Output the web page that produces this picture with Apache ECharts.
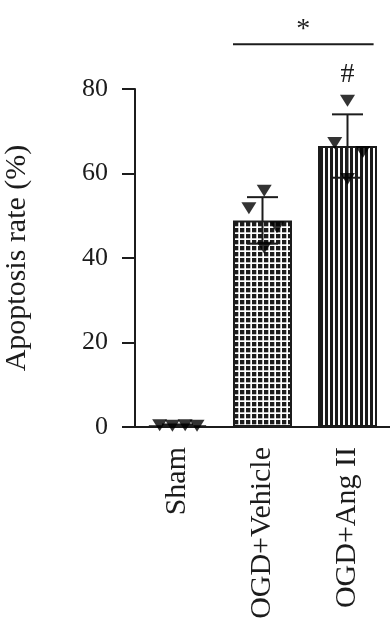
<!DOCTYPE html>
<html>
<head>
<meta charset="utf-8">
<script src="https://cdn.jsdelivr.net/npm/echarts@6/dist/echarts.min.js"></script>
<style>
html,body{margin:0;padding:0;background:#fff;}
#chart{width:390px;height:621px;}
</style>
</head>
<body>
<div id="chart"></div>
<script>
// ---- data ----
var categories = ['Sham', 'OGD+Vehicle', 'OGD+Ang II'];
var means = [0.4, 48.9, 66.5];
var sds = [0.2, 5.5, 7.5];
var pointsSham = [0.4, 0.3, 0.4, 0.3];
var pointsVehicle = [51.8, 55.9, 47.3, 42.4];
var pointsAngII = [77.2, 67.2, 65.1, 58.7];
var jitterSham = [-0.21, -0.06, 0.09, 0.23];
var jitterVehicle = [-0.16, 0.02, 0.17, 0.02];
var jitterAngII = [0.0, -0.15, 0.18, 0.0];
var yTicks = [0, 20, 40, 60, 80];
var yTitle = 'Apoptosis rate (%)';
var sigStar = {text: '*', from: 1, to: 2, lineY: 90.6, textY: 94.0};
var sigHash = {text: '#', at: 2, textY: 83.5};

var FONT = '"Liberation Serif", "DejaVu Serif", serif';
var INK = '#1c1c1c';

function makePattern(kind) {
  var c = document.createElement('canvas');
  var ctx;
  if (kind === 'grid') {
    c.width = 6; c.height = 6;
    ctx = c.getContext('2d');
    ctx.fillStyle = '#fff'; ctx.fillRect(0, 0, 6, 6);
    ctx.fillStyle = INK; ctx.fillRect(0, 0, 4.3, 4.3);
  } else {
    c.width = 5; c.height = 4;
    ctx = c.getContext('2d');
    ctx.fillStyle = '#fff'; ctx.fillRect(0, 0, 5, 4);
    ctx.fillStyle = INK; ctx.fillRect(0, 0, 3, 4);
  }
  return {image: c, repeat: 'repeat'};
}
var fills = ['#ffffff', makePattern('grid'), makePattern('stripe')];

var pointSets = [pointsSham, pointsVehicle, pointsAngII];
var jitters = [jitterSham, jitterVehicle, jitterAngII];
var scatterData = [];
pointSets.forEach(function (arr, i) {
  arr.forEach(function (v, j) { scatterData.push([i + jitters[i][j], v]); });
});
var errData = means.map(function (m, i) { return [i, m - sds[i], m + sds[i]]; });

var BAR_W = 59;
var chart = echarts.init(document.getElementById('chart'), null, {renderer: 'canvas'});
var option = {
  animation: false,
  backgroundColor: '#ffffff',
  grid: {left: 135, right: 0, top: 89, bottom: 194, containLabel: false, outerBoundsMode: 'none'},
  xAxis: [{
    type: 'category',
    data: categories,
    axisLine: {onZero: false, lineStyle: {color: INK, width: 2}},
    axisTick: {alignWithLabel: true, length: 13, lineStyle: {color: INK, width: 2}},
    axisLabel: {rotate: 90, margin: 20, color: INK, fontFamily: FONT, fontSize: 30, interval: 0}
  }, {
    type: 'value', min: -0.5, max: 2.5, show: false
  }],
  yAxis: {
    type: 'value', min: 0, max: 80, interval: 20,
    name: yTitle, nameLocation: 'middle', nameRotate: 90, nameGap: 103,
    nameTextStyle: {color: INK, fontFamily: FONT, fontSize: 30},
    axisLine: {show: true, onZero: false, lineStyle: {color: INK, width: 2}},
    axisTick: {show: true, length: 13, lineStyle: {color: INK, width: 2}},
    axisLabel: {margin: 27, color: INK, fontFamily: FONT, fontSize: 26},
    splitLine: {show: false}
  },
  series: [{
    type: 'bar',
    xAxisIndex: 0,
    barWidth: BAR_W,
    data: means.map(function (m, i) {
      return {value: m, itemStyle: {color: fills[i], borderColor: INK, borderWidth: 2}};
    }),
    z: 2
  }, {
    type: 'custom',
    xAxisIndex: 0,
    data: errData,
    z: 3,
    renderItem: function (params, api) {
      var top = api.coord([api.value(0), api.value(2)]);
      var bot = api.coord([api.value(0), api.value(1)]);
      var x = top[0], hw = 15.5;
      var st = {stroke: INK, lineWidth: 2};
      return {type: 'group', children: [
        {type: 'line', shape: {x1: x, y1: top[1], x2: x, y2: bot[1]}, style: st},
        {type: 'line', shape: {x1: x - hw, y1: top[1], x2: x + hw, y2: top[1]}, style: st},
        {type: 'line', shape: {x1: x - hw, y1: bot[1], x2: x + hw, y2: bot[1]}, style: st}
      ]};
    }
  }, {
    type: 'scatter',
    xAxisIndex: 1,
    symbol: 'triangle',
    symbolRotate: 180,
    symbolSize: [15, 12],
    itemStyle: {color: '#000000'},
    data: scatterData,
    z: 4
  }]
};
chart.setOption(option);

// significance annotations, positioned through the chart's scales
function px(x, y) { return chart.convertToPixel({seriesIndex: 2}, [x, y]); }
var bandPx = px(1, 0)[0] - px(0, 0)[0];
var half = (BAR_W / 2) / bandPx;
var l = px(sigStar.from - half, sigStar.lineY);
var r = px(sigStar.to + half - 0.04, sigStar.lineY);
var s = px((sigStar.from - half + sigStar.to + half - 0.04) / 2, sigStar.textY);
var h = px(sigHash.at, sigHash.textY);
chart.setOption({
  graphic: [
    {type: 'line', shape: {x1: l[0], y1: l[1], x2: r[0], y2: r[1]}, style: {stroke: INK, lineWidth: 2}},
    {type: 'text', x: s[0], y: s[1], style: {text: sigStar.text, textAlign: 'center', textVerticalAlign: 'middle', font: '28px ' + FONT, fill: INK}},
    {type: 'text', x: h[0], y: h[1], style: {text: sigHash.text, textAlign: 'center', textVerticalAlign: 'middle', font: '28px ' + FONT, fill: INK}}
  ]
});
</script>
</body>
</html>
